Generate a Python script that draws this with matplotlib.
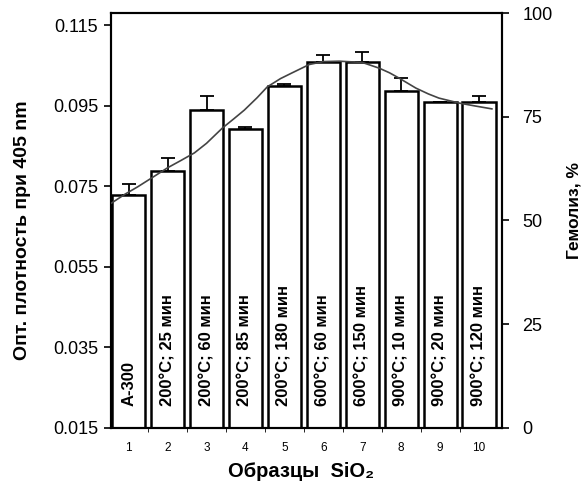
import numpy as np
import matplotlib
matplotlib.use('Agg')
import matplotlib.pyplot as plt

plt.rcParams['font.family'] = ['Liberation Sans', 'DejaVu Sans']

samples = [1, 2, 3, 4, 5, 6, 7, 8, 9, 10]
labels = ['A-300', '200°C; 25 мин', '200°C; 60 мин', '200°C; 85 мин', '200°C; 180 мин',
          '600°C; 60 мин', '600°C; 150 мин', '900°C; 10 мин', '900°C; 20 мин', '900°C; 120 мин']
density = [0.0728, 0.0788, 0.0939, 0.0892, 0.0999, 0.1058, 0.1058, 0.0986, 0.0959, 0.0959]
density_err = [0.0027, 0.0032, 0.0035, 0.0005, 0.0005, 0.0018, 0.0025, 0.0032, 0.0, 0.0015]

# hemolysis curve
curve_x = [0.56, 0.9, 1.23, 1.6, 2.0, 2.35, 2.69, 3.0, 3.41, 3.7, 3.97, 4.3, 4.56, 4.9, 5.18,
           5.64, 6.0, 6.41, 7.0, 7.44, 7.7, 7.95, 8.38, 8.7, 8.97, 9.49, 9.9, 10.33]
curve_y = [54.2, 56.3, 58.1, 60.3, 62.7, 64.5, 66.3, 68.6, 72.3, 74.5, 76.6, 79.6, 82.2, 84.2, 85.5,
           87.6, 88.3, 88.4, 88.1, 86.7, 85.6, 84.3, 81.9, 80.5, 79.5, 78.3, 77.6, 76.9]

fig = plt.figure(figsize=(5.86, 4.84), dpi=100)
ax = fig.add_axes([0.189, 0.116, 0.667, 0.857])

ax.bar(samples, density, width=0.85, color='white', edgecolor='black', linewidth=1.8, zorder=2)
ax.errorbar(samples, density, yerr=[[0] * 10, density_err], fmt='none', ecolor='black',
            elinewidth=1.3, capsize=5, capthick=1.3, zorder=3)

for s, lab in zip(samples, labels):
    ax.text(s, 0.0205, lab, rotation=90, ha='center', va='bottom',
            fontsize=12, fontweight='bold', zorder=4)

ax.set_xlim(0.54, 10.58)
ax.set_ylim(0.015, 0.118)
ax.set_yticks([0.015, 0.035, 0.055, 0.075, 0.095, 0.115])
ax.set_yticklabels(['0.015', '0.035', '0.055', '0.075', '0.095', '0.115'], fontsize=13)
ax.set_xticks(samples)
ax.set_xticklabels([str(s) for s in samples], fontsize=8.5)
ax.set_xticks(np.arange(1.5, 10.5, 1), minor=True)
ax.tick_params(axis='x', which='major', length=0, pad=10)
ax.tick_params(axis='x', which='minor', length=3, direction='out')
ax.tick_params(axis='y', length=5, direction='out', width=1.2, pad=4)
for sp in ax.spines.values():
    sp.set_linewidth(1.5)

ax.set_xlabel('Образцы  SiO₂', fontsize=14.5, fontweight='bold')
ax.xaxis.label.set_va('center')
ax.xaxis.set_label_coords(0.487, -0.106)
ax.set_ylabel('Опт. плотность при 405 nm', fontsize=14, fontweight='bold')
ax.yaxis.label.set_va('center')
ax.yaxis.set_label_coords(-0.226, 0.477)

ax2 = ax.twinx()
ax2.plot(curve_x, curve_y, color='#444444', linewidth=1.2, zorder=5)
ax2.set_ylim(0, 100)
ax2.set_yticks([0, 25, 50, 75, 100])
ax2.set_yticklabels(['0', '25', '50', '75', '100'], fontsize=13)
ax2.tick_params(axis='y', length=5, direction='out', width=1.2, pad=10)
ax2.set_ylabel('Гемолиз, %', fontsize=12.5, fontweight='bold')
ax2.yaxis.label.set_va('center')
ax2.yaxis.set_label_coords(1.1846, 0.525)
for sp in ax2.spines.values():
    sp.set_linewidth(1.5)

fig.savefig('out.png', dpi=100)
